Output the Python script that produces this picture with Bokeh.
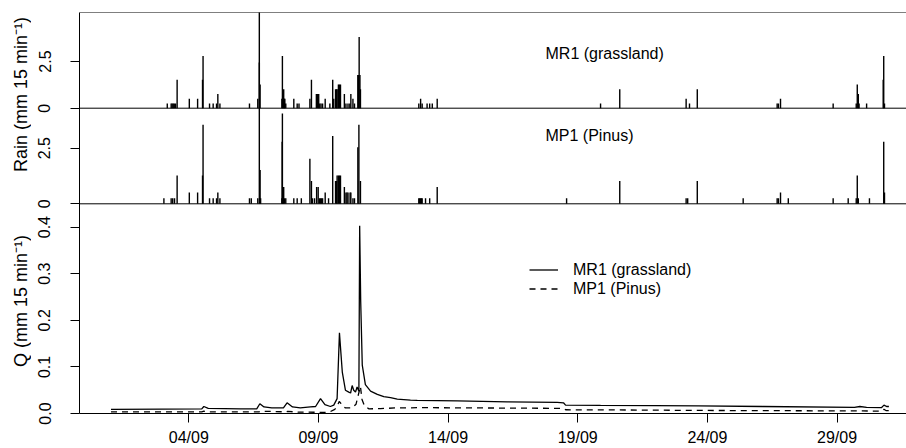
from bokeh.plotting import figure
from bokeh.layouts import row
from bokeh.models import (Range1d, LinearAxis, FixedTicker, CustomJSTickFormatter,
                          Span, Label, Legend, LegendItem, ColumnDataSource)
from bokeh.embed import file_html
from bokeh.resources import INLINE

# ---------------- data (days since 01/09 00:00) ----------------
MR1_RAIN_T = [2.17, 2.32, 2.36, 2.40, 2.44, 2.49, 2.55,
              3.02, 3.34, 3.53, 3.55,
              3.80, 3.94, 4.07, 4.12, 4.20,
              5.34, 5.66, 5.72, 5.75,
              6.59, 6.61, 6.64, 6.66, 6.69, 6.70, 6.74,
              7.05, 7.18, 7.25,
              7.67, 7.73,
              7.92, 7.97, 8.01, 8.05, 8.10, 8.16,
              8.26, 8.44, 8.55, 8.59,
              8.66, 8.70, 8.72, 8.77, 8.81, 8.85,
              9.00, 9.06, 9.14, 9.21, 9.25, 9.33, 9.39,
              9.52, 9.54, 9.57, 9.60, 9.62,
              11.87, 11.94, 12.00, 12.19, 12.29, 12.39, 12.58,
              18.88, 19.62,
              22.18, 22.31, 22.61,
              25.69, 25.74, 25.82,
              27.85,
              28.74, 28.78, 28.82, 28.85,
              29.14,
              29.78, 29.80, 29.83]
MR1_RAIN_MM = [0.25, 0.25, 0.25, 0.25, 0.25, 0.25, 1.52,
               0.51, 0.51, 1.52, 2.79,
               0.25, 0.25, 0.25, 0.76, 0.25,
               0.25, 0.51, 6.35, 1.27,
               0.51, 2.79, 0.51, 1.02, 0.51, 0.51, 0.25,
               0.51, 0.25, 0.25,
               0.51, 1.52,
               0.76, 0.76, 0.76, 0.25, 0.25, 0.25,
               0.51, 0.25, 1.52, 0.51,
               1.02, 1.02, 1.02, 1.27, 1.27, 1.27,
               0.76, 0.25, 0.25, 0.25, 0.76, 0.51, 0.25,
               1.78, 1.78, 3.81, 1.78, 1.02,
               0.25, 0.51, 0.25, 0.25, 0.25, 0.25, 0.51,
               0.25, 1.02,
               0.51, 0.25, 1.02,
               0.25, 0.25, 0.51,
               0.25,
               0.25, 1.27, 0.76, 0.25,
               0.25,
               1.52, 2.79, 0.25]

MP1_RAIN_T = [2.04, 2.32, 2.38, 2.45, 2.55,
              3.02, 3.34, 3.53, 3.55,
              3.80, 3.94, 4.07, 4.12, 4.20,
              5.34, 5.41,
              5.66, 5.72, 5.75, 5.77,
              6.59, 6.60, 6.61, 6.64, 6.66, 6.69, 6.74,
              7.05, 7.18, 7.34,
              7.67, 7.73, 7.77,
              7.85, 7.93, 7.99, 8.04, 8.08, 8.12, 8.16,
              8.26, 8.39, 8.55,
              8.66, 8.70, 8.72, 8.77, 8.81, 8.85,
              9.00, 9.06, 9.10, 9.14, 9.22, 9.25, 9.33, 9.39,
              9.52, 9.56, 9.62,
              11.87, 11.90, 11.94, 11.97, 12.00, 12.13, 12.29, 12.58,
              17.57,
              19.62,
              22.18, 22.24, 22.61,
              24.38,
              25.69, 25.74, 25.82,
              26.12,
              27.85,
              28.43,
              28.74, 28.78, 28.82,
              29.25,
              29.80, 29.83]
MP1_RAIN_MM = [0.25, 0.25, 0.25, 0.25, 1.27,
               0.51, 0.51, 1.27, 3.56,
               0.25, 0.25, 0.25, 0.51, 0.25,
               0.25, 0.25,
               0.25, 6.35, 1.52, 0.25,
               0.25, 2.79, 4.06, 0.25, 0.76, 0.25, 0.25,
               0.25, 0.25, 0.25,
               2.03, 1.02, 0.25,
               0.25, 0.76, 0.76, 0.25, 0.25, 0.25, 0.25,
               0.51, 0.25, 3.05,
               1.02, 1.02, 1.27, 1.27, 1.27, 1.27,
               0.76, 0.51, 0.51, 0.51, 0.51, 0.51, 0.25, 0.25,
               2.54, 3.56, 1.02,
               0.25, 0.25, 0.25, 0.25, 0.25, 0.25, 0.25, 0.76,
               0.25,
               1.02,
               0.25, 0.25, 1.02,
               0.25,
               0.25, 0.25, 0.51,
               0.25,
               0.25,
               0.25,
               0.25, 1.27, 0.25,
               0.25,
               2.79, 0.51]

MR1_Q_T = [0.00, 2.00, 3.50, 3.58, 3.75, 5.00, 5.62, 5.74, 5.90, 6.20, 6.65, 6.79,
           7.00, 7.30, 7.69, 7.89, 8.08, 8.25, 8.46, 8.59, 8.72, 8.81, 8.92, 9.04,
           9.17, 9.24, 9.30, 9.36, 9.43, 9.49, 9.56, 9.59, 9.63, 9.69, 9.81, 10.01,
           10.27, 10.52, 10.78, 11.04, 11.55, 11.81, 13.35, 15.28, 17.21, 17.45,
           17.53, 18.88, 20.96, 22.64, 25.12, 28.67, 28.88, 29.14, 29.71, 29.81,
           29.91, 30.00]
MR1_Q = [0.009, 0.0095, 0.0098, 0.015, 0.011, 0.010, 0.010, 0.021, 0.014, 0.012, 0.012, 0.023,
         0.014, 0.012, 0.014, 0.015, 0.032, 0.019, 0.015, 0.018, 0.032, 0.173, 0.089, 0.050,
         0.046, 0.044, 0.060, 0.050, 0.046, 0.057, 0.048, 0.403, 0.240, 0.104, 0.062, 0.048,
         0.041, 0.036, 0.034, 0.031, 0.0285, 0.028, 0.027, 0.025, 0.024, 0.023,
         0.018, 0.0175, 0.017, 0.0165, 0.015, 0.013, 0.015, 0.013, 0.0125, 0.018,
         0.015, 0.015]

MP1_Q_T = [0.00, 3.50, 3.58, 3.75, 5.70, 5.78, 6.75, 6.82, 7.20, 8.30, 8.46, 8.63,
           8.72, 8.80, 8.86, 8.92, 9.04, 9.30, 9.45, 9.56, 9.62, 9.68, 9.78, 9.95,
           10.40, 11.00, 12.00, 14.00, 17.40, 17.55, 20.00, 23.00, 26.00, 29.00,
           29.72, 29.81, 29.90, 30.00]
MP1_Q = [0.0035, 0.0035, 0.005, 0.0035, 0.0035, 0.005, 0.0035, 0.0045, 0.003, 0.0025, 0.004, 0.009,
         0.015, 0.026, 0.022, 0.016, 0.012, 0.012, 0.020, 0.045, 0.058, 0.030, 0.016, 0.010,
         0.0105, 0.012, 0.0125, 0.012, 0.011, 0.008, 0.0075, 0.0065, 0.006, 0.0055,
         0.005, 0.009, 0.006, 0.006]

X_TICKS = [3, 8, 13, 18, 23, 28]
X_TICK_LABELS = ["04/09", "09/09", "14/09", "19/09", "24/09", "29/09"]
RAIN_TICKS = [0, 2.5]
RAIN_TICK_LABELS = ["0", "2.5"]
Q_TICKS = [0.0, 0.1, 0.2, 0.3, 0.4]
Q_TICK_LABELS = ["0.0", "0.1", "0.2", "0.3", "0.4"]

# ---------------- layout (pixels) ----------------
FONT = "Liberation Sans"
H = 448
TITLE_W = 31
W = 906 - TITLE_W
B_LEFT, B_TOP, B_BOTTOM = 79 - TITLE_W, 12, 35
FRAME_H = H - B_TOP - B_BOTTOM
FRAME_W = W - B_LEFT
PX_PER_DAY = 25.93
X_START = -1.215
R1_ZERO, R1_PX = 95.7, 18.68    # zero line below frame top, px per mm
R2_ZERO, R2_PX = 191.3, 22.24
Q_PX = 466.0

q_rng = Range1d(0, FRAME_H / Q_PX)
r1_start = -(FRAME_H - R1_ZERO) / R1_PX
r1_rng = Range1d(r1_start, r1_start + FRAME_H / R1_PX)
r2_start = -(FRAME_H - R2_ZERO) / R2_PX
r2_rng = Range1d(r2_start, r2_start + FRAME_H / R2_PX)

p = figure(width=W, height=H, output_backend="svg", toolbar_location=None,
           x_range=Range1d(X_START, X_START + FRAME_W / PX_PER_DAY), y_range=q_rng,
           x_axis_location=None, y_axis_location=None,
           min_border_left=B_LEFT, min_border_right=0,
           min_border_top=B_TOP, min_border_bottom=B_BOTTOM)
p.extra_y_ranges = {"r1": r1_rng, "r2": r2_rng}
p.outline_line_color = None
p.xgrid.visible = False
p.ygrid.visible = False
p.background_fill_color = "white"
p.border_fill_color = "white"

# frame lines
p.add_layout(Span(location=q_rng.end, dimension="width", line_color="black", line_width=1))
p.add_layout(Span(location=0, dimension="width", y_range_name="r1", line_color="black", line_width=1))
p.add_layout(Span(location=0, dimension="width", y_range_name="r2", line_color="black", line_width=1))

# rain bars
s2 = ColumnDataSource(dict(t=MP1_RAIN_T, v=MP1_RAIN_MM, z=[0] * len(MP1_RAIN_T)))
p.segment(x0="t", y0="z", x1="t", y1="v", source=s2, y_range_name="r2",
          line_color="black", line_width=1.4)
s1 = ColumnDataSource(dict(t=MR1_RAIN_T, v=MR1_RAIN_MM, z=[0] * len(MR1_RAIN_T)))
p.segment(x0="t", y0="z", x1="t", y1="v", source=s1, y_range_name="r1",
          line_color="black", line_width=1.4)

# discharge
l1 = p.line(MR1_Q_T, MR1_Q, line_color="black", line_width=1.3)
l2 = p.line(MP1_Q_T, MP1_Q, line_color="black", line_width=1.3, line_dash="6 5")

# axes
def to_q(v, rng):
    return q_rng.start + (v - rng.start) / (rng.end - rng.start) * (q_rng.end - q_rng.start)

ypos = list(Q_TICKS) + [to_q(v, r2_rng) for v in RAIN_TICKS] + [to_q(v, r1_rng) for v in RAIN_TICKS]
ylab = list(Q_TICK_LABELS) + RAIN_TICK_LABELS + RAIN_TICK_LABELS
fmt = CustomJSTickFormatter(args=dict(pos=ypos, labels=ylab), code="""
let best = 0, bd = Infinity;
for (let i = 0; i < pos.length; i++) { const d = Math.abs(pos[i] - tick); if (d < bd) { bd = d; best = i; } }
return labels[best];
""")
yaxis = LinearAxis(ticker=FixedTicker(ticks=ypos, minor_ticks=[]), formatter=fmt,
                   major_label_orientation="vertical",
                   major_tick_out=9, major_tick_in=0, minor_tick_out=0, minor_tick_in=0,
                   major_label_standoff=20,
                   axis_line_color="black", major_tick_line_color="black",
                   major_label_text_font=FONT, major_label_text_font_size="16px",
                   major_label_text_color="black")
p.add_layout(yaxis, "left")

xaxis = LinearAxis(ticker=FixedTicker(ticks=X_TICKS, minor_ticks=[]),
                   major_label_overrides=dict(zip(X_TICKS, X_TICK_LABELS)),
                   major_tick_out=9, major_tick_in=0, minor_tick_out=0, minor_tick_in=0,
                   major_label_standoff=6,
                   axis_line_color="black", major_tick_line_color="black",
                   major_label_text_font=FONT, major_label_text_font_size="16px",
                   major_label_text_color="black")
p.add_layout(xaxis, "below")

# in-panel texts
lab_kw = dict(x_units="screen", y_units="screen", text_font=FONT, text_color="black")
p.add_layout(Label(x=466, y=360, text="MR1 (grassland)", text_align="left",
                   text_baseline="middle", text_font_size="16px", **lab_kw))
p.add_layout(Label(x=466, y=278, text="MP1 (Pinus)", text_align="left",
                   text_baseline="middle", text_font_size="16px", **lab_kw))

legend = Legend(items=[LegendItem(label="MR1 (grassland)", renderers=[l1]),
                       LegendItem(label="MP1 (Pinus)", renderers=[l2])],
                location=(450, 115), padding=0, margin=0, spacing=0,
                glyph_width=29, glyph_height=19, label_height=19, label_standoff=15,
                border_line_color=None, background_fill_alpha=0,
                label_text_font=FONT, label_text_font_size="16px", label_text_color="black")
p.add_layout(legend, "center")

# y-axis titles in a narrow strip figure on the left (its frame is aligned with the main one)
FRAME_BOTTOM = H - B_BOTTOM
t = figure(width=TITLE_W, height=H, output_backend="svg", toolbar_location=None,
           x_range=Range1d(0, 1), y_range=Range1d(0, 1),
           x_axis_location=None, y_axis_location=None, min_border=0)
t.outline_line_color = None
t.xgrid.visible = False
t.ygrid.visible = False
t.add_layout(Label(x=20.7, y=FRAME_BOTTOM - 94, text="Rain (mm 15 min\u207b\u00b9)", angle=1.5708,
                   text_align="center", text_baseline="middle", text_font_size="18px", **lab_kw))
t.add_layout(Label(x=20.7, y=FRAME_BOTTOM - 300.5, text="Q (mm 15 min\u207b\u00b9)", angle=1.5708,
                   text_align="center", text_baseline="middle", text_font_size="18px", **lab_kw))

layout = row(t, p, spacing=0)
open("out.html", "w").write(file_html(layout, INLINE))
